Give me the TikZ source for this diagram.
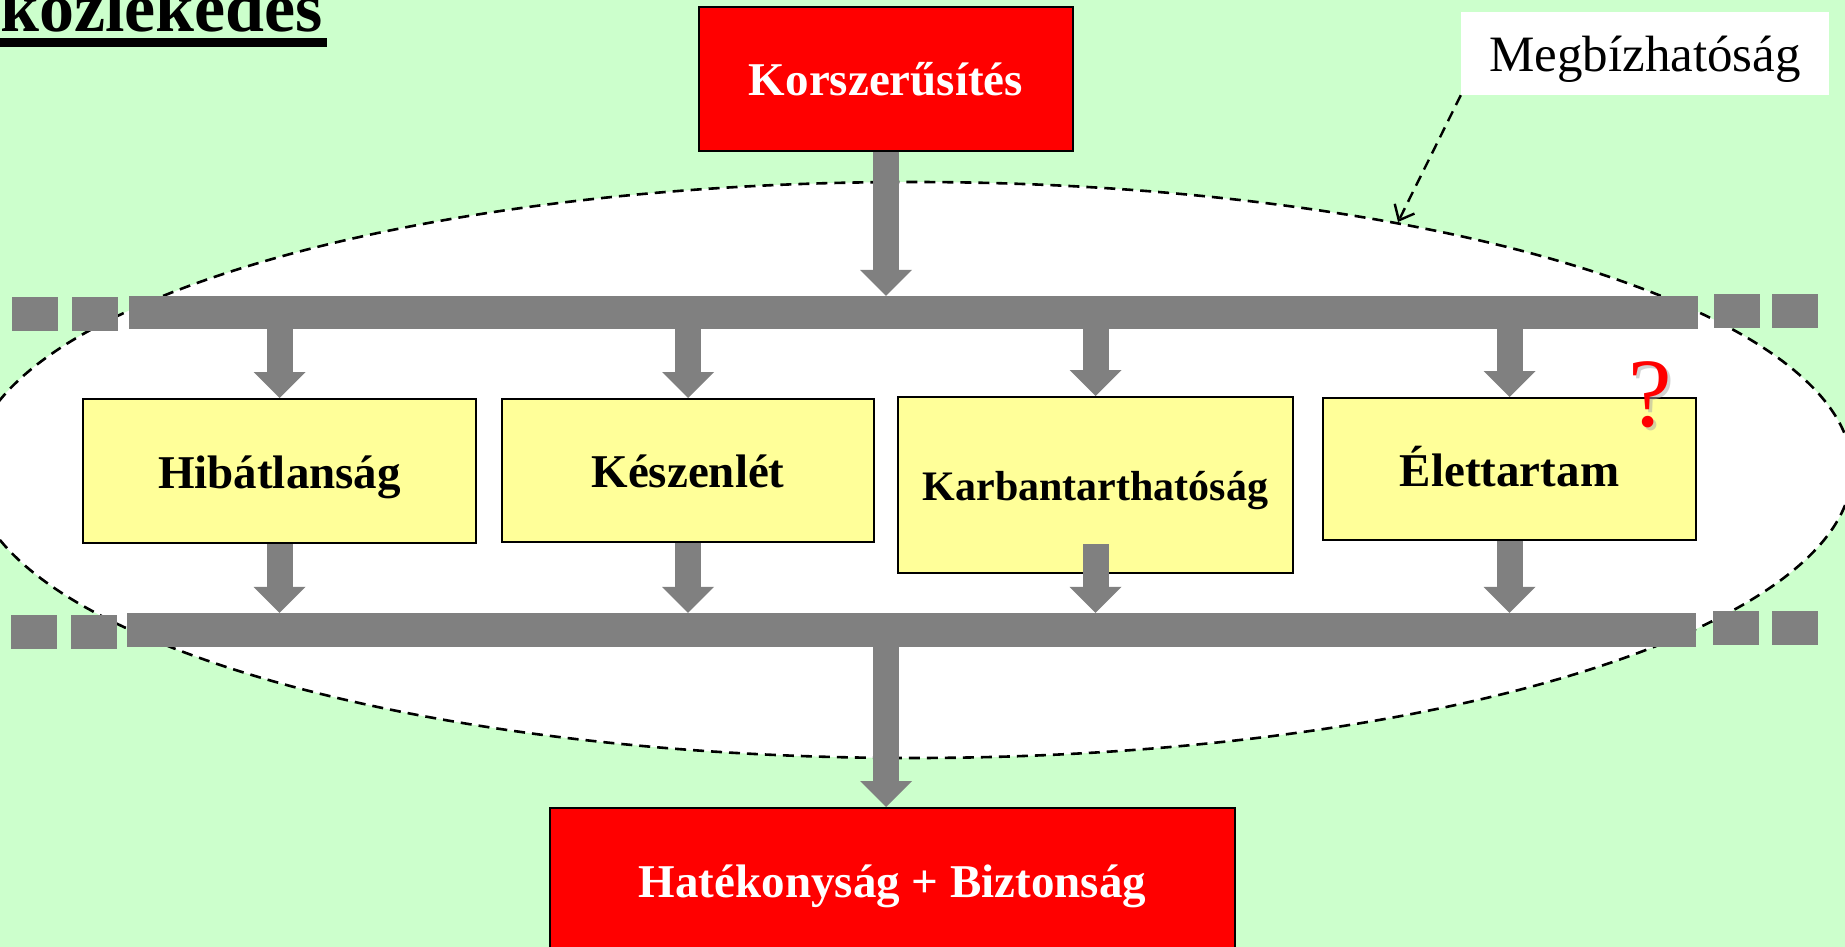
\documentclass[tikz,border=0pt]{standalone}
\usepackage{fontspec}
\setmainfont{Liberation Serif}
\usetikzlibrary{arrows.meta}
\definecolor{bggreen}{HTML}{CCFFCC}
\definecolor{bargray}{HTML}{808080}
\definecolor{boxyellow}{HTML}{FFFF99}
\definecolor{boxred}{HTML}{FF0000}
\begin{document}
\begin{tikzpicture}[x=1pt,y=-1pt,
  redbox/.style={draw=black, line width=2pt, fill=boxred, text=white,
    font=\fontsize{47pt}{50pt}\selectfont\bfseries, inner sep=0pt,
    text height=34pt, text depth=0pt},
  yellowbox/.style={draw=black, line width=2pt, fill=boxyellow, text=black,
    font=\fontsize{47pt}{50pt}\selectfont\bfseries, inner sep=0pt,
    text height=34pt, text depth=0pt},
  barnode/.style={fill=bargray, draw=none, inner sep=0pt, minimum width=1569pt},
  sqnode/.style={fill=bargray, draw=none, inner sep=0pt, minimum width=46pt, minimum height=34pt},
  blockarrow/.style={draw=bargray, line width=26pt,
    -{Triangle[width=52pt,length=26pt,line width=0pt]}},
  ellstyle/.style={draw=black, fill=white, line width=2.6pt, dash pattern=on 11pt off 7pt},
  calloutarrow/.style={draw=black, line width=2.4pt, dash pattern=on 11pt off 7pt,
    -{Straight Barb[length=13pt,width=22pt,line width=2.4pt]}}
]
\fill[bggreen] (0,0) rectangle (1845,947);
\useasboundingbox (0,0) rectangle (1845,947);
\clip (0,0) rectangle (1845,947);

% title
\node[anchor=base west, inner sep=0pt, font=\fontsize{70pt}{70pt}\selectfont\bfseries] (title) at (0,32) {közlekedés};
\fill[black] (0,38) rectangle (327,47);

% dashed ellipse
\draw[ellstyle] (912,470) ellipse [x radius=940, y radius=288];

% bars and squares
\node[barnode, minimum height=33pt] (bar1) at (913.5,312.5) {};
\node[barnode, minimum height=34pt] (bar2) at (911.5,630) {};
\node[sqnode] (sqa) at (35,314) {};
\node[sqnode] (sqb) at (95,314) {};
\node[sqnode] (sqc) at (1737,311) {};
\node[sqnode] (sqd) at (1795,311) {};
\node[sqnode] (sqe) at (34,632) {};
\node[sqnode] (sqf) at (94,632) {};
\node[sqnode] (sqg) at (1736,628) {};
\node[sqnode] (sqh) at (1795,628) {};

% boxes
\node[redbox, minimum width=374pt, minimum height=144pt] (korsz) at (886,79) {Korszerűsítés};
\node[redbox, minimum width=685pt, minimum height=144pt] (hb) at (892.5,880) {Hatékonyság + Biztonság};
\node[yellowbox, minimum width=393pt, minimum height=144pt] (hib) at (279.5,471) {Hibátlanság};
\node[yellowbox, minimum width=372pt, minimum height=143pt] (kesz) at (688,470.5) {Készenlét};
\node[yellowbox, minimum width=395pt, minimum height=176pt, text height=30pt,
  font=\fontsize{42pt}{45pt}\selectfont\bfseries] (karb) at (1095.5,485) {Karbantarthatóság};
\node[yellowbox, minimum width=373pt, minimum height=142pt] (elet) at (1509.5,469) {Élettartam};

% question mark with shadow
\node[inner sep=0pt, text=black!35, opacity=0.5, font=\fontsize{98pt}{98pt}\selectfont] (qshadow) at (1653,398) {?};
\node[inner sep=0pt, text=boxred, font=\fontsize{98pt}{98pt}\selectfont] (qmark) at (1650,395) {?};

% Megbizhatosag label
\node[fill=white, inner sep=0pt, minimum width=368pt, minimum height=83pt,
  text height=37pt, text depth=0pt, font=\fontsize{51pt}{54pt}\selectfont] (megb) at (1645,53.5) {Megbízhatóság};
\coordinate (ellpt) at (1398,222);
\draw[calloutarrow] (megb.south west) -- (ellpt);

% block arrows
\draw[blockarrow] (korsz.south) -- (korsz.south |- bar1.north);
\draw[blockarrow] (hib.north |- bar1.south) -- (hib.north);
\draw[blockarrow] (kesz.north |- bar1.south) -- (kesz.north);
\draw[blockarrow] (karb.north |- bar1.south) -- (karb.north);
\draw[blockarrow] (elet.north |- bar1.south) -- (elet.north);
\draw[blockarrow] (hib.south) -- (hib.south |- bar2.north);
\draw[blockarrow] (kesz.south) -- (kesz.south |- bar2.north);
\draw[blockarrow] (karb.south |- hib.south) -- (karb.south |- bar2.north);
\draw[blockarrow] (elet.south) -- (elet.south |- bar2.north);
\draw[blockarrow] (bar2.south -| korsz.south) -- (korsz.south |- hb.north);
\end{tikzpicture}
\end{document}
